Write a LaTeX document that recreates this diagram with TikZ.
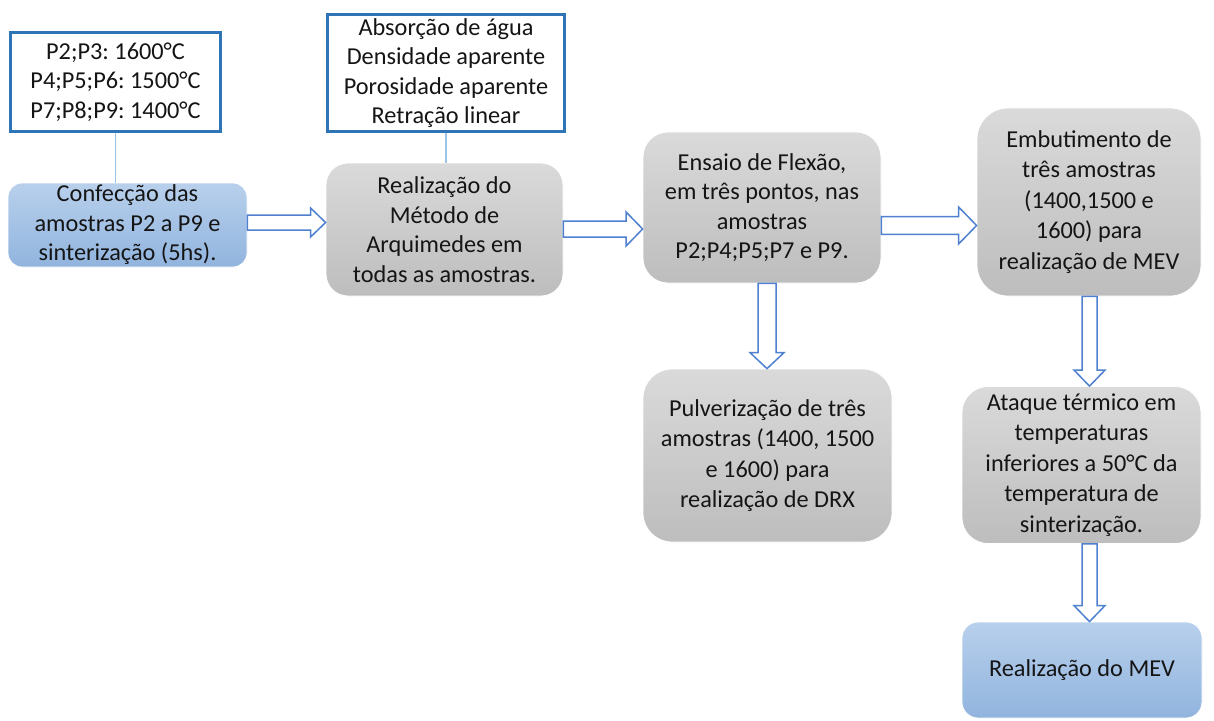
\documentclass[tikz,border=0pt]{standalone}
\usepackage{fontspec}
\setmainfont{Carlito}
\frenchspacing
\usetikzlibrary{calc}
\definecolor{boxblue}{HTML}{2E75B6}
\definecolor{linkblue}{HTML}{9DC3E6}
\definecolor{arrblue}{HTML}{4F81D0}
\definecolor{grayT}{HTML}{DADADA}
\definecolor{grayB}{HTML}{BDBDBD}
\definecolor{blueT}{HTML}{B8D0EC}
\definecolor{blueB}{HTML}{91B4DE}
\definecolor{inkc}{HTML}{151515}
\tikzset{
 txt/.style={font=\fontsize{24.3}{29.5}\selectfont, align=center, text=inkc, inner sep=0pt},
 widetxt/.style={font=\fontsize{24.3}{30.5}\selectfont},
 framebox/.style={txt, draw=boxblue, line width=3pt, fill=white},
 graystep/.style={txt, top color=grayT, bottom color=grayB, draw=white, line width=0.8pt},
 bluestep/.style={txt, top color=blueT, bottom color=blueB, draw=white, line width=0.8pt},
 blockarrow/.style={draw=arrblue, line width=1.5pt, fill=white, line join=miter},
 link/.style={draw=linkblue, line width=1.2pt},
}
% horizontal block arrow: from, to, y, body half, head half, head length
\newcommand\harr[6]{%
\draw[blockarrow] let \p1=(#1.east), \p2=(#2.west) in
 (\x1,{-#3pt+#4pt}) -- (\x2-#6pt,{-#3pt+#4pt}) -- (\x2-#6pt,{-#3pt+#5pt}) -- (\x2,-#3pt)
 -- (\x2-#6pt,{-#3pt-#5pt}) -- (\x2-#6pt,{-#3pt-#4pt}) -- (\x1,{-#3pt-#4pt}) -- cycle;}
% vertical block arrow: from, to, x, body half, head half, head length
\newcommand\varr[6]{%
\draw[blockarrow] let \p1=(#1.south), \p2=(#2.north) in
 ({#3pt-#4pt},\y1) -- ({#3pt-#4pt},\y2+#6pt) -- ({#3pt-#5pt},\y2+#6pt) -- (#3pt,\y2)
 -- ({#3pt+#5pt},\y2+#6pt) -- ({#3pt+#4pt},\y2+#6pt) -- ({#3pt+#4pt},\y1) -- cycle;}
\begin{document}
\begin{tikzpicture}[x=1pt,y=-1pt]
\useasboundingbox[fill=white] (0,0) rectangle (1214,720);

\node[framebox, minimum width=210pt, minimum height=99pt] (A) at (115.5,82)
 {P2;P3: 1600°C\\P4;P5;P6: 1500°C\\P7;P8;P9: 1400°C};
\node[framebox, minimum width=237pt, minimum height=117pt] (B) at (446,73)
 {Absorção de água\\Densidade aparente\\Porosidade aparente\\Retração linear};

\node[bluestep, rounded corners=14pt, minimum width=239pt, minimum height=84pt] (C) at (127.5,225)
 {Confecção das\\amostras P2 a P9 e\\sinterização (5hs).};
\node[graystep, rounded corners=22pt, minimum width=237pt, minimum height=133pt] (D) at (444.5,229.5)
 {Realização do\\Método de\\Arquimedes em\\todas as amostras.};
\node[graystep, rounded corners=25pt, minimum width=238pt, minimum height=151pt] (E) at (762,207.5)
 {Ensaio de Flexão,\\em três pontos, nas\\amostras\\P2;P4;P5;P7 e P9.};
\node[graystep, widetxt, rounded corners=31pt, minimum width=224pt, minimum height=188pt] (F) at (1089,202)
 {Embutimento de\\três amostras\\(1400,1500 e\\1600) para\\realização de MEV};
\node[graystep, widetxt, rounded corners=29pt, minimum width=249pt, minimum height=173pt] (G) at (767.5,455.5)
 {Pulverização de três\\amostras (1400, 1500\\e 1600) para\\realização de DRX};
\node[graystep, widetxt, rounded corners=26pt, minimum width=239pt, minimum height=157pt] (H) at (1081.5,465)
 {Ataque térmico em\\temperaturas\\inferiores a 50°C da\\temperatura de\\sinterização.};
\node[bluestep, rounded corners=16pt, minimum width=240pt, minimum height=96pt] (I) at (1082,670)
 {Realização do MEV};

\draw[link] (A.south) -- (A.south |- C.north);
\draw[link] (B.south) -- (B.south |- D.north);

\harr{C}{D}{222.5}{7.5}{14.5}{15}
\harr{D}{E}{229}{8}{17}{16.5}
\harr{E}{F}{225.5}{8.8}{18.5}{18}
\varr{E}{G}{767}{9}{17}{16}
\varr{F}{H}{1089.5}{7.5}{15.5}{16}
\varr{H}{I}{1089.5}{7.5}{15.5}{16}
\end{tikzpicture}
\end{document}
